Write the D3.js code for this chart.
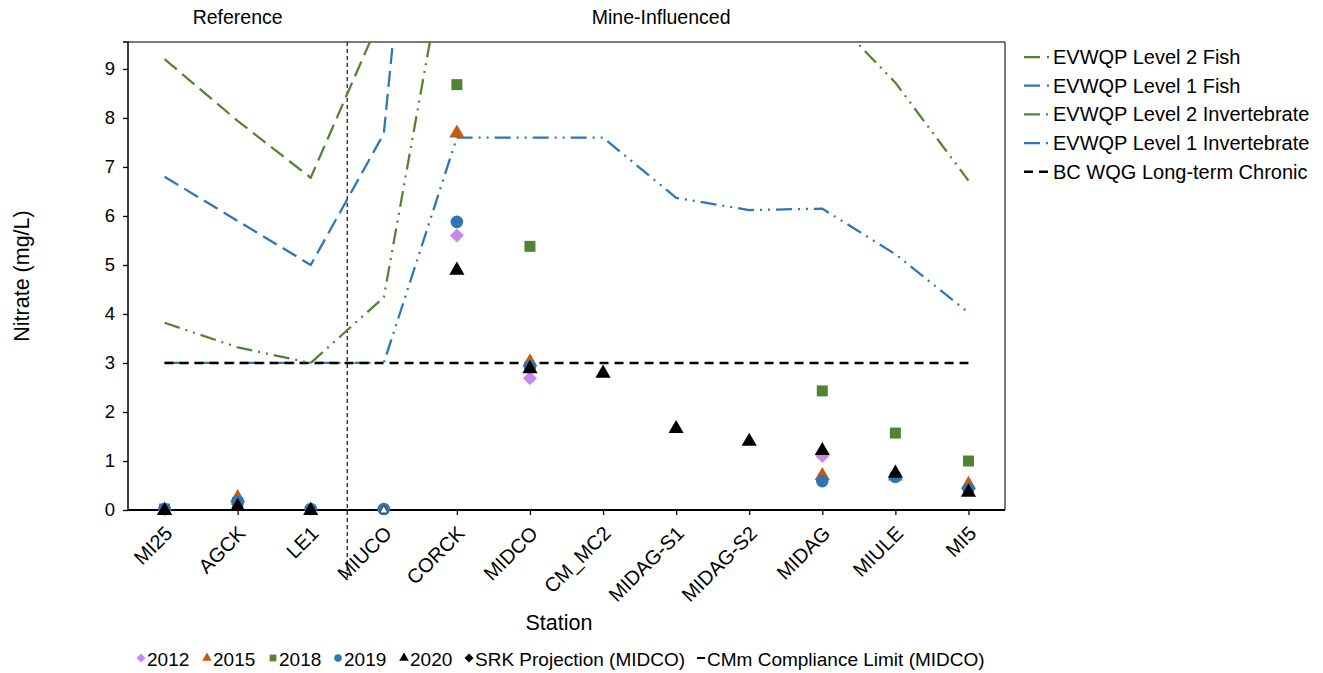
<!DOCTYPE html>
<html>
<head>
<meta charset="utf-8">
<script src="https://cdn.jsdelivr.net/npm/d3@7"></script>
<style>
  html, body { margin: 0; padding: 0; background: #fff; }
  svg { display: block; font-family: "Liberation Sans", Arial, sans-serif; }
</style>
</head>
<body>
<svg id="chart" width="1323" height="673"></svg>
<script>
// ---------------- DATA ----------------
const stations = ["MI25","AGCK","LE1","MIUCO","CORCK","MIDCO","CM_MC2","MIDAG-S1","MIDAG-S2","MIDAG","MIULE","MI5"];
const yTicks = [0,1,2,3,4,5,6,7,8,9];

// benchmark lines (mg/L), null = no value
const level2Fish = [9.2, 7.94, 6.78, 10.2, null, null, null, null, null, null, null, null];
const level1Fish = [6.8, 5.9, 5.0, 7.68, 22.7, null, null, null, null, null, null, null];
const level2Invert = [3.82, 3.32, 3.0, 4.34, 12.6, 12.6, 12.6, 10.6, 10.2, 10.27, 8.72, 6.72];
const level1Invert = [3.0, 3.0, 3.0, 3.0, 7.6, 7.6, 7.6, 6.37, 6.12, 6.15, 5.22, 4.03];
const bcWqg = [3, 3, 3, 3, 3, 3, 3, 3, 3, 3, 3, 3];

// observed values by year
const y2012 = [0.02, 0.12, null, null, 5.6, 2.69, null, null, null, 1.1, null, 0.45];
const y2015 = [0.02, 0.28, null, null, 7.72, 3.05, null, null, null, 0.73, 0.72, 0.55];
const y2018 = [0.02, 0.15, null, null, 8.68, 5.38, null, null, null, 2.43, 1.57, 1.0];
const y2019 = [0.02, 0.17, 0.02, 0.02, 5.88, 2.93, null, null, null, 0.59, 0.68, 0.43];
const y2020 = [0.02, 0.1, 0.02, 0.02, 4.92, 2.91, 2.82, 1.69, 1.43, 1.24, 0.78, 0.39];
const hollow2020 = ["MIUCO"];

const lineNames = ["EVWQP Level 2 Fish","EVWQP Level 1 Fish","EVWQP Level 2 Invertebrate","EVWQP Level 1 Invertebrate","BC WQG Long-term Chronic"];
const pointNames = ["2012","2015","2018","2019","2020","SRK Projection (MIDCO)","CMm Compliance Limit (MIDCO)"];
const groupTitles = ["Reference","Mine-Influenced"];

// ---------------- STYLE ----------------
const GREEN = "#548235", BLUE = "#2E75B6", ORANGE = "#C55A11", VIOLET = "#C987F0";
const M = { left: 128, right: 1005, top: 42, bottom: 510 };

const svg = d3.select("#chart");

const x = d3.scalePoint().domain(stations).range([M.left, M.right]).padding(0.5);
const step = x.step();
const y = d3.scaleLinear().domain([0, 9.55]).range([M.bottom, M.top]);

svg.append("defs").append("clipPath").attr("id", "plotclip")
  .append("rect").attr("x", M.left).attr("y", M.top)
  .attr("width", M.right - M.left).attr("height", M.bottom - M.top);

// plot border (top & right)
svg.append("line").attr("x1", M.left).attr("x2", M.right).attr("y1", M.top).attr("y2", M.top)
  .attr("stroke", "#7a7a7a").attr("stroke-width", 2);
svg.append("line").attr("x1", M.right).attr("x2", M.right).attr("y1", M.top).attr("y2", M.bottom)
  .attr("stroke", "#333").attr("stroke-width", 1.3);

// vertical separator
const sepX = x("LE1") + step / 2;
svg.append("line").attr("x1", sepX).attr("x2", sepX).attr("y1", M.top).attr("y2", 578)
  .attr("stroke", "#222").attr("stroke-width", 1.3).attr("stroke-dasharray", "4,3");

// benchmark lines
const lineDefs = [
  { data: level2Fish, color: GREEN, dash: "16,7", w: 2.25 },
  { data: level1Fish, color: BLUE, dash: "16,7", w: 2.25 },
  { data: level2Invert, color: GREEN, dash: "16,6,2,6,2,6", w: 2.25 },
  { data: level1Invert, color: BLUE, dash: "16,6,2,6,2,6", w: 2.25 },
  { data: bcWqg, color: "#000", dash: "9,6", w: 2.5 }
];
const lineGen = d3.line()
  .defined(d => d.v !== null)
  .x(d => x(d.s)).y(d => y(d.v));

const lg = svg.append("g").attr("clip-path", "url(#plotclip)");
[3, 4, 2, 1, 0].forEach(i => {
  const L = lineDefs[i];
  const pts = stations.map((s, j) => ({ s, v: L.data[j] }));
  lg.append("path").attr("d", lineGen(pts))
    .attr("fill", "none").attr("stroke", L.color).attr("stroke-width", L.w)
    .attr("stroke-dasharray", L.dash).attr("stroke-linejoin", "round");
});

// axes
const yAxis = d3.axisLeft(y).tickValues(yTicks).tickSize(5).tickPadding(8).tickFormat(d3.format("d"));
const gy = svg.append("g").attr("transform", `translate(${M.left},0)`).call(yAxis);
gy.select(".domain").attr("stroke", "#000").attr("stroke-width", 1.5).attr("d", `M-5,${M.top}H0V${M.bottom}`);
gy.selectAll(".tick line").attr("stroke", "#000").attr("stroke-width", 1.3);
gy.selectAll(".tick text").attr("font-size", 18.5).attr("fill", "#000")
  .attr("font-family", "Liberation Sans, Arial, sans-serif");

const xAxis = d3.axisBottom(x).tickSize(5).tickSizeOuter(0);
const gx = svg.append("g").attr("transform", `translate(0,${M.bottom})`).call(xAxis);
gx.select(".domain").attr("stroke", "#000").attr("stroke-width", 1.8).attr("d", `M${M.left},0H${M.right}`);
gx.selectAll(".tick line").attr("stroke", "#000").attr("stroke-width", 1.3);
gx.selectAll(".tick text")
  .attr("font-size", 20).attr("fill", "#000")
  .attr("font-family", "Liberation Sans, Arial, sans-serif")
  .attr("text-anchor", "end")
  .attr("dy", "0")
  .attr("transform", "translate(3,19) rotate(-45)");

// markers
const diamondPath = r => `M0,${-r}L${r},0L0,${r}L${-r},0Z`;
const shapePath = {
  diamond: () => diamondPath(7),
  triangle: d3.symbol().type(d3.symbolTriangle).size(100),
  square: d3.symbol().type(d3.symbolSquare).size(121),
  circle: d3.symbol().type(d3.symbolCircle).size(125)
};
const pointDefs = [
  { data: y2012, shape: "diamond", color: VIOLET },
  { data: y2015, shape: "triangle", color: ORANGE },
  { data: y2018, shape: "square", color: GREEN },
  { data: y2019, shape: "circle", color: BLUE },
  { data: y2020, shape: "triangle", color: "#000" }
];
const pg = svg.append("g");
pointDefs.forEach((P, k) => {
  stations.forEach((s, j) => {
    const v = P.data[j];
    if (v === null) return;
    const isHollow = k === 4 && hollow2020.includes(s);
    const dy = P.shape === "triangle" ? 1.5 : 0;
    pg.append("path")
      .attr("d", shapePath[P.shape]())
      .attr("fill", isHollow ? "#fff" : P.color)
      .attr("stroke", isHollow ? "#000" : "none")
      .attr("stroke-width", isHollow ? 1.2 : 0)
      .attr("transform", isHollow ? `translate(${x(s)},${y(v) + dy}) scale(0.55)` : `translate(${x(s)},${y(v) + dy})`);
  });
});

// group titles
svg.append("text").attr("x", (M.left + sepX) / 2).attr("y", 24).attr("text-anchor", "middle")
  .attr("font-size", 19.5).text(groupTitles[0]);
svg.append("text").attr("x", (sepX + M.right) / 2 - 15).attr("y", 24).attr("text-anchor", "middle")
  .attr("font-size", 19.5).text(groupTitles[1]);

// axis titles
svg.append("text").attr("transform", `translate(29,${(M.top + M.bottom) / 2}) rotate(-90)`)
  .attr("text-anchor", "middle").attr("font-size", 21.5).text("Nitrate (mg/L)");
svg.append("text").attr("x", 559).attr("y", 630).attr("text-anchor", "middle")
  .attr("font-size", 21.5).text("Station");

// right legend
const rl = svg.append("g");
lineNames.forEach((name, i) => {
  const L = lineDefs[i];
  const yy = 57 + i * 28.7;
  rl.append("line").attr("x1", 1024).attr("x2", 1049).attr("y1", yy).attr("y2", yy)
    .attr("stroke", L.color).attr("stroke-width", L.w).attr("stroke-dasharray", L.dash);
  rl.append("text").attr("x", 1053).attr("y", yy + 7).attr("font-size", 20).text(name);
});

// bottom legend
const bl = svg.append("g");
const blDefs = [
  { shape: "diamond", color: VIOLET, x: 141 },
  { shape: "triangle", color: ORANGE, x: 207 },
  { shape: "square", color: GREEN, x: 273 },
  { shape: "circle", color: BLUE, x: 338 },
  { shape: "triangle", color: "#000", x: 404 },
  { shape: "diamond", color: "#000", x: 469 },
  { shape: "line", color: "#000", x: 701 }
];
const blY = 659;
const legSym = {
  diamond: () => diamondPath(4.5),
  triangle: d3.symbol().type(d3.symbolTriangle).size(40),
  square: d3.symbol().type(d3.symbolSquare).size(45),
  circle: d3.symbol().type(d3.symbolCircle).size(45)
};
pointNames.forEach((name, i) => {
  const B = blDefs[i];
  if (B.shape === "line") {
    bl.append("line").attr("x1", B.x - 4).attr("x2", B.x + 4).attr("y1", blY - 1).attr("y2", blY - 1)
      .attr("stroke", "#000").attr("stroke-width", 2);
  } else {
    bl.append("path").attr("d", legSym[B.shape]()).attr("transform", `translate(${B.x},${blY - 1})`).attr("fill", B.color);
  }
  bl.append("text").attr("x", B.x + 6).attr("y", blY + 6.5).attr("font-size", 19).text(name);
});
</script>
</body>
</html>
